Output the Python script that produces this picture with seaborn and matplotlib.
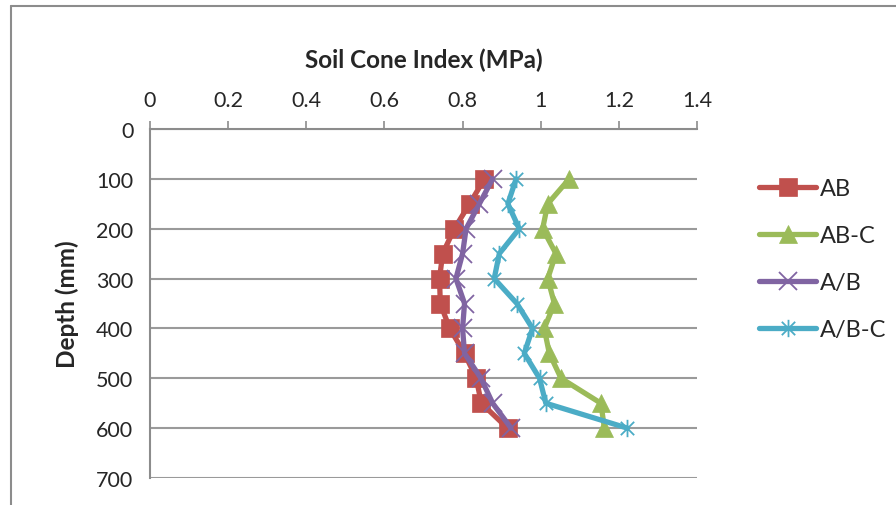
import matplotlib
matplotlib.use("Agg")
import matplotlib.pyplot as plt
import seaborn as sns
import numpy as np
import pandas as pd
from matplotlib.path import Path
from matplotlib.lines import Line2D

# ---- data ----
depth = [100, 150, 200, 250, 300, 350, 400, 450, 500, 550, 600]
ab = [0.856, 0.818, 0.779, 0.749, 0.741, 0.743, 0.767, 0.805, 0.835, 0.848, 0.915]
ab_c = [1.073, 1.018, 1.005, 1.039, 1.018, 1.035, 1.009, 1.022, 1.052, 1.154, 1.163]
a_b = [0.877, 0.843, 0.809, 0.800, 0.783, 0.805, 0.800, 0.805, 0.847, 0.877, 0.924]
a_b_c = [0.937, 0.916, 0.945, 0.894, 0.881, 0.939, 0.979, 0.958, 0.997, 1.013, 1.222]
series_names = ["AB", "AB-C", "A/B", "A/B-C"]
x_ticks = [0, 0.2, 0.4, 0.6, 0.8, 1.0, 1.2, 1.4]
x_tick_labels = ["0", "0.2", "0.4", "0.6", "0.8", "1", "1.2", "1.4"]
y_ticks = [0, 100, 200, 300, 400, 500, 600, 700]
y_tick_labels = ["0", "100", "200", "300", "400", "500", "600", "700"]
x_title = "Soil Cone Index (MPa)"
y_title = "Depth (mm)"

sns.set_style("white")
plt.rcParams['font.family'] = ['Lato', 'DejaVu Sans']

fig = plt.figure(figsize=(8.96, 5.06), dpi=100)
ax = fig.add_axes([150/896, 1-479/506, (697-150)/896, (479-130)/506])

star = Path([(-1, -1), (1, 1), (-1, 1), (1, -1), (0, -1.3), (0, 1.3)],
            [Path.MOVETO, Path.LINETO, Path.MOVETO, Path.LINETO, Path.MOVETO, Path.LINETO])

styles = [
    dict(color="#C0504D", marker="s", ms=12.5, mew=0.5),
    dict(color="#9BBB59", marker="^", ms=13.5, mew=0.5),
    dict(color="#8064A2", marker="x", ms=12.5, mew=1.3),
    dict(color="#4BACC6", marker=star, ms=12.5, mew=1.3),
]
values = [ab, ab_c, a_b, a_b_c]
for name, vals, st in zip(series_names, values, styles):
    df = pd.DataFrame({"x": vals, "depth": depth})
    sns.lineplot(data=df, x="x", y="depth", orient="y", sort=False, ax=ax,
                 color=st["color"], lw=3.8, marker=st["marker"], markersize=st["ms"],
                 markeredgewidth=st["mew"], markeredgecolor=st["color"],
                 markerfacecolor=st["color"], label=name, legend=False, zorder=3)

ax.set_xlim(0, 1.4)
ax.set_ylim(700, 0)
ax.xaxis.tick_top()
ax.xaxis.set_label_position("top")
ax.set_xticks(x_ticks)
ax.set_xticklabels(x_tick_labels)
ax.set_yticks(y_ticks)
ax.set_yticklabels(y_tick_labels)
ax.tick_params(axis="both", which="both", direction="out", length=6, width=1.2,
               color="#8c8c8c", labelsize=15.5, pad=6)
ax.tick_params(axis="x", pad=8)
ax.set_xlabel(x_title, fontsize=17.5, fontweight="bold", labelpad=16)
ax.set_ylabel(y_title, fontsize=17.5, fontweight="bold", labelpad=12)

ax.grid(axis="y", color="#9a9a9a", lw=1.5)
ax.grid(axis="x", visible=False)
ax.set_axisbelow(True)
for s in ["right", "bottom"]:
    ax.spines[s].set_visible(False)
for s in ["left", "top"]:
    ax.spines[s].set_color("#8c8c8c")
    ax.spines[s].set_linewidth(1.5)

leg = ax.legend(loc="upper left", bbox_to_anchor=(750/896, 1-170/506),
                bbox_transform=fig.transFigure, frameon=False, fontsize=17,
                handlelength=2.4, labelspacing=1.1, handletextpad=0.15,
                borderaxespad=0)

# outer chart frame
fig.add_artist(Line2D([11/896, 11/896], [0, 1-7/506], color="#8c8c8c", lw=1.5,
                      transform=fig.transFigure))
fig.add_artist(Line2D([11/896, 1.0], [1-7/506, 1-7/506], color="#8c8c8c", lw=1.5,
                      transform=fig.transFigure))

fig.savefig("out.png", dpi=100)
